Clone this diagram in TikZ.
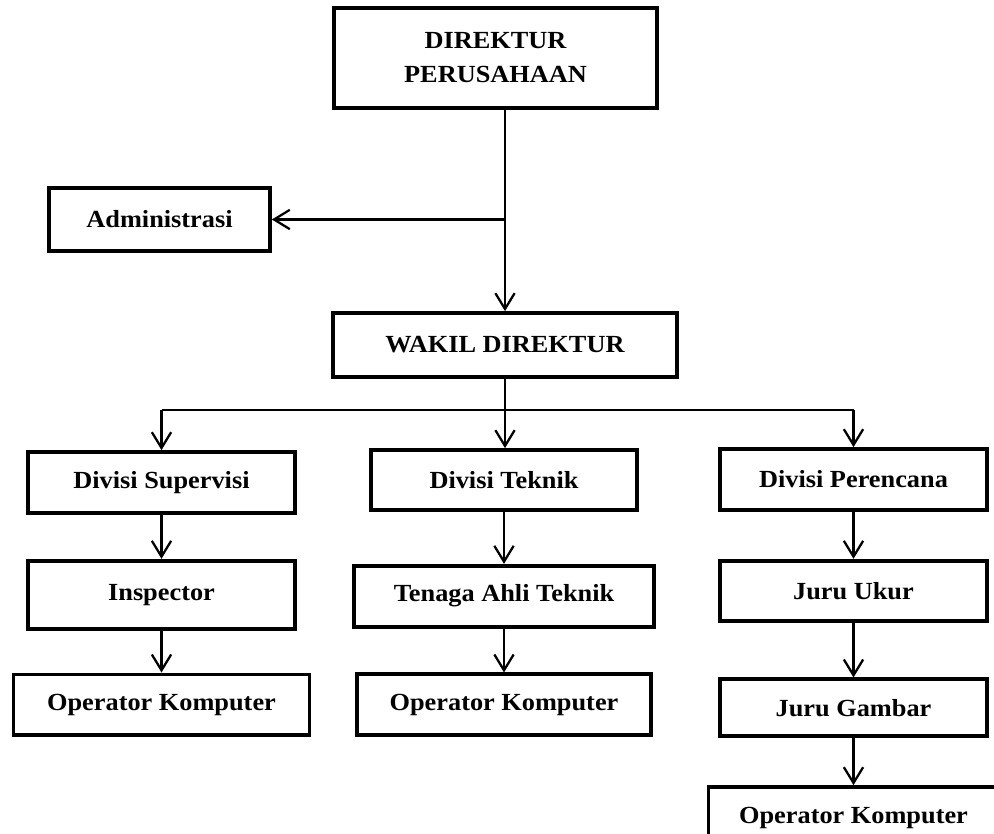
\documentclass[tikz,border=0pt]{standalone}
\usepackage{fontspec}
\setmainfont{Liberation Serif}[FakeStretch=1.07]
\usetikzlibrary{arrows.meta, positioning}
\tikzset{
  orgbox/.style={
    rectangle, draw=black, line width=2.1pt, inner sep=2pt, minimum height=1.22cm,
    align=center, font=\fontsize{14}{19.3}\selectfont\bfseries
  },
  link/.style={-{Straight Barb[length=9pt, width=11pt]}, line width=1.3pt},
  busline/.style={line width=0.8pt}
}

\begin{document}
\begin{tikzpicture}[x=0.02cm, y=-0.02cm]
    \useasboundingbox (0,0) rectangle (994,834);
    \clip (0,0) rectangle (994,834);
    \node[orgbox, minimum width=6.46cm, minimum height=2cm] (dir) at (495.5,58) {DIREKTUR\\PERUSAHAAN};
    \node[orgbox, minimum width=4.42cm, minimum height=1.26cm] (adm) at (159.5,219.5) {Administrasi};
    \node[orgbox, minimum width=6.88cm, minimum height=1.28cm] (wakil) at (505,345) {WAKIL DIREKTUR};
    \node[orgbox, minimum width=5.34cm] (divsup) at (161.5,482.5) {Divisi Supervisi};
    \node[orgbox, minimum width=5.32cm, minimum height=1.2cm] (divtek) at (504,480) {Divisi Teknik};
    \node[orgbox, minimum width=5.34cm] (divper) at (853.5,479.5) {Divisi Perencana};
    \node[orgbox, minimum width=5.34cm, minimum height=1.36cm, below=0.88cm of divsup] (insp) {Inspector};
    \node[orgbox, minimum width=5.92cm, below=0.84cm of insp] (opsup) {Operator Komputer};
    \node[orgbox, minimum width=6cm, below=1.04cm of divtek] (tenaga) {Tenaga Ahli Teknik};
    \node[orgbox, minimum width=5.88cm, below=0.88cm of tenaga] (optek) {Operator Komputer};
    \node[orgbox, minimum width=5.34cm, minimum height=1.2cm, below=0.94cm of divper] (juruukur) {Juru Ukur};
    \node[orgbox, minimum width=5.34cm, minimum height=1.14cm, below=1.1cm of juruukur] (jurugbr) {Juru Gambar};
    \node[orgbox, minimum width=5.8cm, minimum height=1.24cm, below=0.94cm of jurugbr] (opper) {Operator Komputer};
    \coordinate[below=0.62cm of wakil.south] (bus);
    \draw[link] (wakil.north |- dir.south) -- (wakil.north);
    \draw[link] (wakil.north |- adm.east) -- (adm.east);
    \draw[busline] (divsup.north |- bus) -- (divper.north |- bus);
    \draw[link] (wakil.south) -- (wakil.south |- divtek.north);
    \draw[link] (divsup.north |- bus) -- (divsup.north);
    \draw[link] (divper.north |- bus) -- (divper.north);
    \draw[link] (divsup.south) -- (insp.north);
    \draw[link] (insp.south) -- (opsup.north);
    \draw[link] (divtek.south) -- (tenaga.north);
    \draw[link] (tenaga.south) -- (optek.north);
    \draw[link] (divper.south) -- (juruukur.north);
    \draw[link] (juruukur.south) -- (jurugbr.north);
    \draw[link] (jurugbr.south) -- (opper.north);
\end{tikzpicture}
\end{document}
